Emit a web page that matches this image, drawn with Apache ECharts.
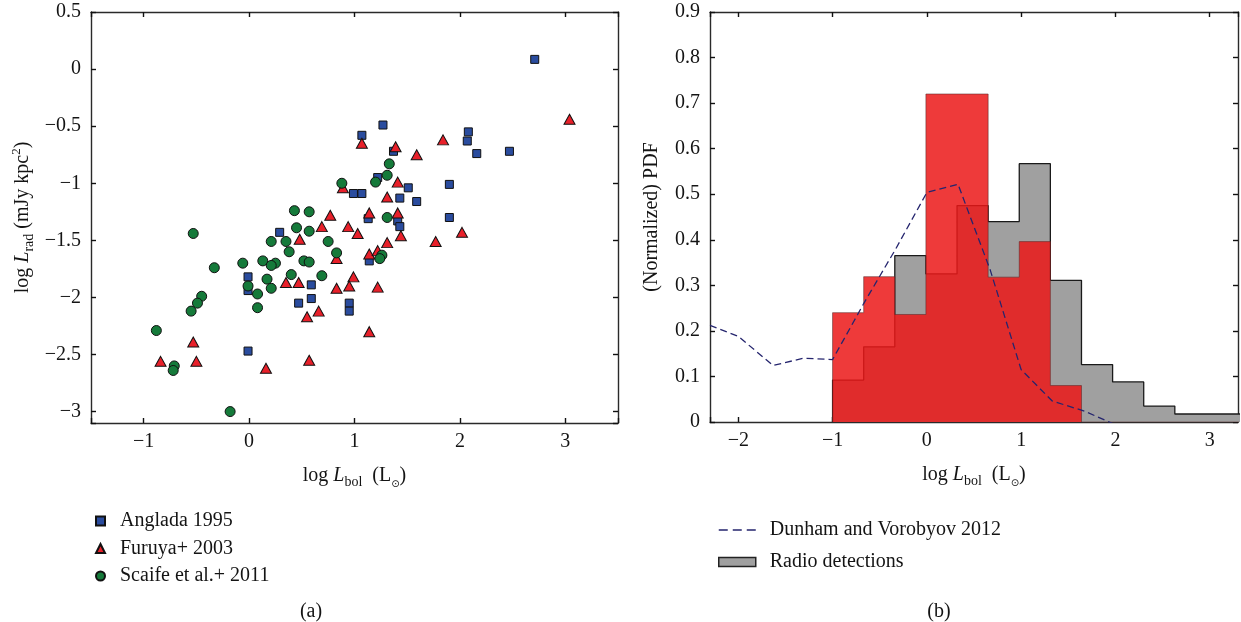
<!DOCTYPE html>
<html><head><meta charset="utf-8">
<script src="https://cdn.jsdelivr.net/npm/echarts@6/dist/echarts.min.js"></script>
<style>html,body{margin:0;padding:0;background:#fff}#c{width:1241px;height:622px}</style>
</head><body><div id="c"></div>
<script>
// ---- Panel (a): scatter data [log Lbol, log Lrad] ----
const anglada1995 = [
  [2.71,0.085],[1.27,-0.49],[1.07,-0.58],[1.37,-0.72],[2.08,-0.55],[2.07,-0.63],[2.16,-0.74],
  [2.47,-0.72],[1.22,-0.95],[0.99,-1.09],[1.07,-1.09],[1.51,-1.04],[1.43,-1.13],[1.59,-1.16],
  [1.90,-1.01],[1.90,-1.30],[1.13,-1.31],[1.41,-1.33],[1.43,-1.38],[1.14,-1.68],[0.59,-1.89],
  [0.59,-2.01],[0.95,-2.05],[0.95,-2.12],[0.47,-2.05],[0.29,-1.43],[-0.01,-1.82],[-0.01,-1.94],
  [-0.01,-2.47]
];
const furuya2003 = [
  [3.04,-0.44],[1.07,-0.65],[1.39,-0.68],[1.59,-0.75],[1.84,-0.62],[1.41,-0.99],[0.89,-1.04],
  [1.31,-1.12],[0.77,-1.28],[1.14,-1.26],[1.41,-1.26],[2.02,-1.43],[1.77,-1.51],[1.31,-1.52],
  [1.44,-1.46],[1.03,-1.44],[0.94,-1.38],[0.69,-1.38],[0.48,-1.49],[0.83,-1.66],[1.14,-1.62],
  [1.22,-1.59],[0.99,-1.82],[0.83,-1.92],[0.95,-1.90],[1.22,-1.91],[0.55,-2.17],[0.66,-2.12],
  [1.14,-2.30],[0.57,-2.55],[0.35,-1.87],[0.47,-1.87],[-0.53,-2.39],[-0.84,-2.56],[-0.50,-2.56],
  [0.16,-2.62]
];
const scaife2011 = [
  [0.88,-1.00],[1.33,-0.83],[1.31,-0.93],[1.20,-0.99],[0.43,-1.24],[0.57,-1.25],[1.31,-1.30],
  [0.45,-1.39],[0.57,-1.42],[0.75,-1.51],[0.83,-1.61],[1.26,-1.63],[1.24,-1.66],[0.52,-1.68],
  [0.57,-1.69],[0.69,-1.81],[0.21,-1.51],[0.35,-1.51],[0.38,-1.60],[-0.06,-1.70],[0.13,-1.68],
  [0.25,-1.70],[0.21,-1.72],[-0.33,-1.74],[-0.53,-1.44],[0.40,-1.80],[-0.01,-1.90],[0.08,-1.97],
  [0.17,-1.84],[0.21,-1.92],[-0.45,-1.99],[-0.49,-2.05],[-0.55,-2.12],[0.08,-2.09],[-0.88,-2.29],
  [-0.71,-2.60],[-0.72,-2.64],[-0.18,-3.00]
];

// ---- Panel (b): histograms and model curve ----
const binEdges = [-1, -0.67, -0.34, -0.01, 0.32, 0.65, 0.98, 1.31, 1.64, 1.97, 2.30, 2.63, 2.96, 3.40];
const radioDetections = [0.092, 0.165, 0.365, 0.325, 0.475, 0.44, 0.567, 0.311, 0.126, 0.088, 0.035, 0.0176, 0.0176];
const redHistogram    = [0.24, 0.319, 0.236, 0.72, 0.72, 0.318, 0.396, 0.08, 0, 0, 0, 0, 0];
const dunhamX = [-2.3, -2.0, -1.63, -1.31, -1.0, -0.67, -0.33, 0.0, 0.33, 0.67, 1.0, 1.33, 1.67, 2.0];
const dunhamY = [0.212, 0.188, 0.124, 0.140, 0.137, 0.26, 0.38, 0.504, 0.522, 0.335, 0.115, 0.046, 0.024, -0.006];

const FONT = "'Liberation Serif', 'DejaVu Serif', serif";
const TXT = '#141414';

function stepOutline(edges, h) {
  const pts = [[edges[0], 0]];
  for (let i = 0; i < h.length; i++) { pts.push([edges[i], h[i]], [edges[i + 1], h[i]]); }
  pts.push([edges[h.length], 0]);
  return pts;
}
const minus = v => (v < 0 ? '\u2212' + String(Math.abs(+v.toFixed(2))) : String(+v.toFixed(2)));

const rich = {
  n: { fontFamily: FONT, fontSize: 20, color: TXT, lineHeight: 26 },
  i: { fontFamily: FONT, fontSize: 20, color: TXT, lineHeight: 26, fontStyle: 'italic' },
  s: { fontFamily: FONT, fontSize: 14, color: TXT, lineHeight: 14, verticalAlign: 'bottom' },
  o: { fontFamily: "'DejaVu Sans', sans-serif", fontSize: 10, color: TXT, lineHeight: 12, verticalAlign: 'bottom' },
  p: { fontFamily: FONT, fontSize: 13, color: TXT, lineHeight: 14, verticalAlign: 'top' }
};
const xName = '{n|log }{i|L}{s|bol}{n|  (L}{o|\u2299}{n|)}';

const axisLine = { onZero: false, lineStyle: { color: '#2a2a2a', width: 1.4 } };
const axisTick = { inside: true, length: 5, lineStyle: { color: '#111', width: 1.4 } };
const lab = { fontFamily: FONT, fontSize: 20, color: TXT };

function xAx(grid, min, max, pos) {
  const a = {
    gridIndex: grid, type: 'value', min, max, minInterval: 1, maxInterval: 1, position: pos,
    axisLine, axisTick, splitLine: { show: false },
    axisLabel: Object.assign({ show: pos === 'bottom', margin: 9,
      formatter: v => (Math.abs(v - Math.round(v)) < 1e-6 ? minus(v) : '') }, lab)
  };
  if (pos === 'bottom') {
    a.name = xName; a.nameLocation = 'middle'; a.nameGap = 40;
    a.nameTextStyle = { rich };
  }
  return a;
}

const option = {
  animation: false,
  backgroundColor: '#fff',
  grid: [
    { left: 91, top: 12, width: 527, height: 411 },
    { left: 710, top: 12, width: 529, height: 410 }
  ],
  xAxis: [
    xAx(0, -1.5, 3.5, 'bottom'), xAx(0, -1.5, 3.5, 'top'),
    xAx(1, -2.3, 3.3, 'bottom'), xAx(1, -2.3, 3.3, 'top')
  ],
  yAxis: [
    { gridIndex: 0, type: 'value', min: -3.1, max: 0.5, minInterval: 0.5, maxInterval: 0.5, position: 'left',
      axisLine, axisTick, splitLine: { show: false },
      axisLabel: Object.assign({ margin: 10, formatter: v => (Math.abs(v * 2 - Math.round(v * 2)) < 1e-6 ? minus(v) : '') }, lab),
      name: '{n|log }{i|L}{s|rad}{n| (mJy kpc}{p|2}{n|)}', nameLocation: 'middle', nameGap: 55, nameRotate: 90,
      nameTextStyle: { rich } },
    { gridIndex: 0, type: 'value', min: -3.1, max: 0.5, minInterval: 0.5, maxInterval: 0.5, position: 'right',
      axisLine, axisTick, splitLine: { show: false }, axisLabel: { show: false } },
    { gridIndex: 1, type: 'value', min: 0, max: 0.9, interval: 0.1, position: 'left',
      axisLine, axisTick, splitLine: { show: false },
      axisLabel: Object.assign({ margin: 10, formatter: v => String(+v.toFixed(1)) }, lab),
      name: '{n|(Normalized) PDF}', nameLocation: 'middle', nameGap: 45, nameRotate: 90,
      nameTextStyle: { rich } },
    { gridIndex: 1, type: 'value', min: 0, max: 0.9, interval: 0.1, position: 'right',
      axisLine, axisTick, splitLine: { show: false }, axisLabel: { show: false } }
  ],
  legend: [
    { data: ['Anglada 1995', 'Furuya+ 2003', 'Scaife et al.+ 2011'], orient: 'vertical',
      left: 90, top: 506, itemWidth: 9, itemHeight: 9, itemGap: 7.5,
      textStyle: { fontFamily: FONT, fontSize: 20, color: TXT, padding: [0, 0, 0, 10] } },
    { data: [
        { name: 'Dunham and Vorobyov 2012', lineStyle: { type: [9, 5], color: '#25256e', width: 1.3 },
          itemStyle: { color: 'rgba(0,0,0,0)', borderColor: 'rgba(0,0,0,0)', borderWidth: 0, opacity: 0 } },
        { name: 'Radio detections', icon: 'rect', itemStyle: { color: '#a0a0a0', borderColor: '#222', borderWidth: 1.5 } }
      ], orient: 'vertical', left: 713, top: 515, itemWidth: 37, itemHeight: 9, itemGap: 12,
      textStyle: { fontFamily: FONT, fontSize: 20, color: TXT, padding: [0, 0, 0, 9] } }
  ],
  title: [
    { text: '(a)', left: 306, top: 597, textAlign: 'center', textStyle: { fontFamily: FONT, fontSize: 20, fontWeight: 'normal', color: TXT } },
    { text: '(b)', left: 934, top: 597, textAlign: 'center', textStyle: { fontFamily: FONT, fontSize: 20, fontWeight: 'normal', color: TXT } }
  ],
  series: [
    { type: 'scatter', name: 'Anglada 1995', xAxisIndex: 0, yAxisIndex: 0, symbol: 'rect', symbolSize: 8,
      itemStyle: { color: '#2a4c9e', borderColor: '#111', borderWidth: 1, opacity: 1 }, data: anglada1995, z: 3 },
    { type: 'scatter', name: 'Furuya+ 2003', xAxisIndex: 0, yAxisIndex: 0, symbol: 'triangle', symbolSize: [11, 10],
      itemStyle: { color: '#e8202a', borderColor: '#111', borderWidth: 1, opacity: 1 }, data: furuya2003, z: 4 },
    { type: 'scatter', name: 'Scaife et al.+ 2011', xAxisIndex: 0, yAxisIndex: 0, symbol: 'circle', symbolSize: 10,
      itemStyle: { color: '#157a3a', borderColor: '#111', borderWidth: 1, opacity: 1 }, data: scaife2011, z: 5 },
    { type: 'line', name: 'Radio detections', xAxisIndex: 2, yAxisIndex: 2, symbol: 'none',
      data: stepOutline(binEdges, radioDetections),
      lineStyle: { color: '#1a1a1a', width: 1.3 }, areaStyle: { color: '#a0a0a0', opacity: 1 }, z: 1 },
    { type: 'line', name: 'Red histogram', xAxisIndex: 2, yAxisIndex: 2, symbol: 'none',
      data: stepOutline(binEdges, redHistogram),
      lineStyle: { color: 'rgba(90,40,40,0.55)', width: 1 }, areaStyle: { color: 'rgb(235,24,24)', opacity: 0.85 }, z: 2 },
    { type: 'line', name: 'Dunham and Vorobyov 2012', xAxisIndex: 2, yAxisIndex: 2, symbol: 'none',
      data: dunhamX.map((x, i) => [x, dunhamY[i]]),
      lineStyle: { type: [7, 4], color: '#25256e', width: 1.3 }, z: 3 }
  ]
};
echarts.init(document.getElementById('c')).setOption(option);
</script>
</body></html>
